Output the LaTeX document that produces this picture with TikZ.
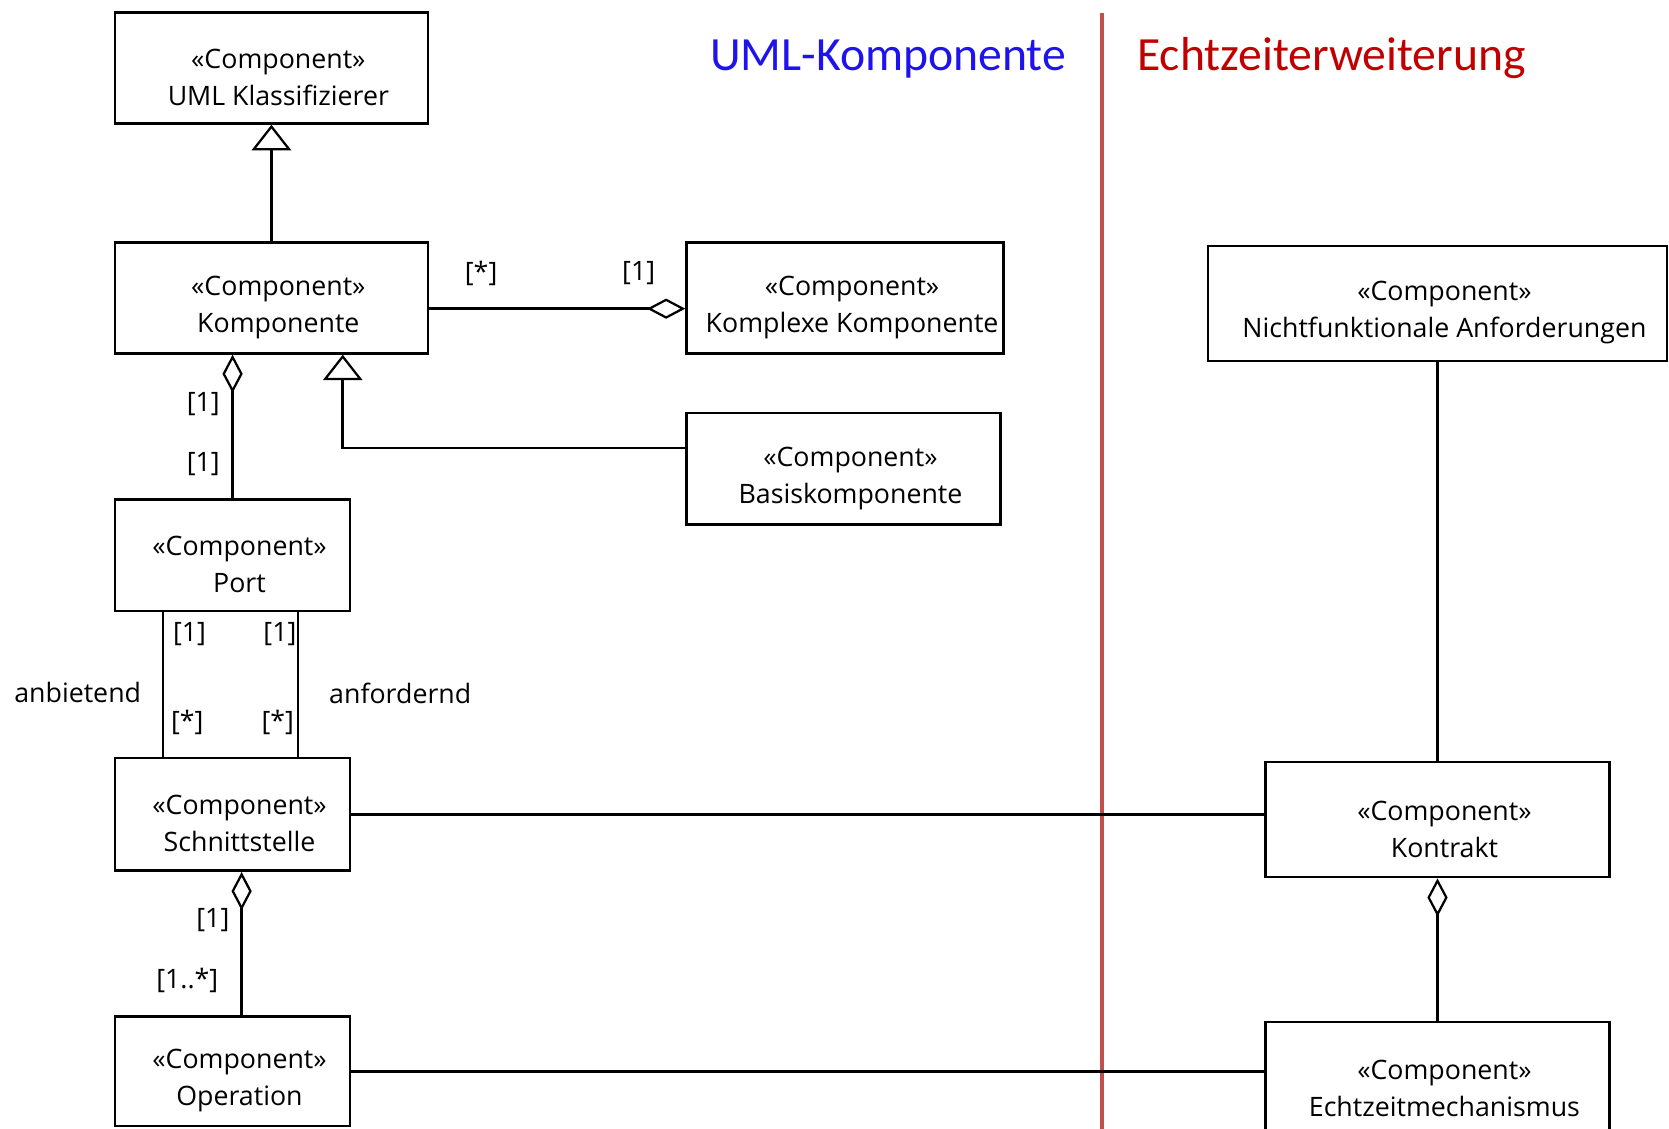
\documentclass[tikz,border=0pt]{standalone}
\usepackage{fontspec}
\setmainfont{Open Sans}
\newfontfamily\titlefont{Carlito}
\usetikzlibrary{arrows.meta}
\definecolor{umlblue}{RGB}{30,20,235}
\definecolor{rtred}{RGB}{192,0,0}
\definecolor{divred}{RGB}{192,80,77}
\begin{document}
\begin{tikzpicture}[x=0.02cm,y=-0.02cm]
        \tikzset{
            comptext/.style={align=center,inner sep=0pt,xshift=0.13cm,yshift=-0.18cm,
                font=\fontsize{14.3}{19.8}\selectfont},
            compnode/.style={draw=black,line width=1.4pt,inner sep=0pt,
                label={[comptext]center:{«Component»\\#1}}},
            mult/.style={inner sep=1pt,font=\fontsize{14.3}{19.8}\selectfont},
            conn/.style={line width=1.4pt},
            gen/.style={conn,-{Triangle[open,length=0.48cm,width=0.74cm,line width=1.2pt]}},
            agg/.style={conn,-{Diamond[open,length=0.72cm,width=0.38cm,line width=1.2pt]}},
            title/.style={font=\titlefont\fontsize{25.5}{30}\selectfont,inner sep=0pt},
        }
        \useasboundingbox (0,0) rectangle (1568,1060);

        % left side
        \node[compnode=UML Klassifizierer,minimum width=5.88cm,minimum height=2.08cm] (uml) at(255,64) {};
        \node[compnode=Komponente,minimum width=5.88cm,minimum height=2.08cm] (komp) at(255,280) {};
        \node[compnode=Komplexe Komponente,minimum width=5.96cm,minimum height=2.08cm] (kk) at(794,280) {};
        \node[compnode=Basiskomponente,minimum width=5.90cm,minimum height=2.10cm] (basis) at(792.5,440.5) {};
        \node[compnode=Port,minimum width=4.42cm,minimum height=2.10cm] (port) at(218.5,521.5) {};
        \node[compnode=Schnittstelle,minimum width=4.42cm,minimum height=2.12cm] (schnitt) at(218.5,765) {};
        \node[compnode=Operation,minimum width=4.42cm,minimum height=2.06cm] (op) at(218.5,1006.5) {};

        % right side
        \node[compnode=Nichtfunktionale Anforderungen,minimum width=8.62cm,minimum height=2.16cm] (nf) at(1350.5,285) {};
        \node[compnode=Kontrakt,minimum width=6.46cm,minimum height=2.16cm] (kontrakt) at(1350.5,770) {};
        \node[compnode=Echtzeitmechanismus,minimum width=6.46cm,minimum height=2.16cm] (echt) at(1350.5,1014) {};

        % titles and divider
        \node[title,text=umlblue,anchor=base east] (tuml) at(1002,66) {UML-Komponente};
        \node[title,text=rtred,anchor=base west] (trt) at(1068,66) {Echtzeiterweiterung};
        \coordinate (divtop) at(1035,12);
        \coordinate (divbot) at(1035,1070);
        \draw[draw=divred,line width=2.2pt] (divtop) -- (divbot);

        % connectors
        \draw[gen] (komp.north) -- (uml.south);
        \draw[agg] ([yshift=-0.2cm]komp.east) -- ([yshift=-0.2cm]kk.west);
        \draw[gen] ([yshift=0.39cm]basis.west) -| ([xshift=1.34cm]komp.south);
        \draw[agg] (port.north) -- (port.north |- komp.south);
        \draw[conn] ([xshift=-1.31cm]port.south) -- ([xshift=-1.31cm]schnitt.north);
        \draw[conn] ([xshift=1.23cm]port.south) -- ([xshift=1.23cm]schnitt.north);
        \draw[agg] ([xshift=0.17cm]op.north) -- ([xshift=0.17cm]schnitt.south);
        \draw[conn] (schnitt.east) -- (schnitt.east -| kontrakt.west);
        \draw[conn] (op.east) -- (op.east -| echt.west);
        \draw[conn] (nf.south) -- (nf.south |- kontrakt.north);
        \draw[agg] (echt.north) -- (kontrakt.south);

        % multiplicities and roles
        \node[mult] (m1) at(452,257) {[*]};
        \node[mult] (m2) at(600,257) {[1]};
        \node[mult] (m3) at(191,380) {[1]};
        \node[mult] (m4) at(191,436) {[1]};
        \node[mult] (m5) at(178,596) {[1]};
        \node[mult] (m6) at(263,596) {[1]};
        \node[mult] (m7) at(176,679) {[*]};
        \node[mult] (m8) at(261,679) {[*]};
        \node[mult] (m9) at(200,864) {[1]};
        \node[mult] (m10) at(176,921) {[1..*]};
        \node[mult] (rolle1) at(73,651) {anbietend};
        \node[mult] (rolle2) at(376,651) {anfordernd};
    \end{tikzpicture}
\end{document}
